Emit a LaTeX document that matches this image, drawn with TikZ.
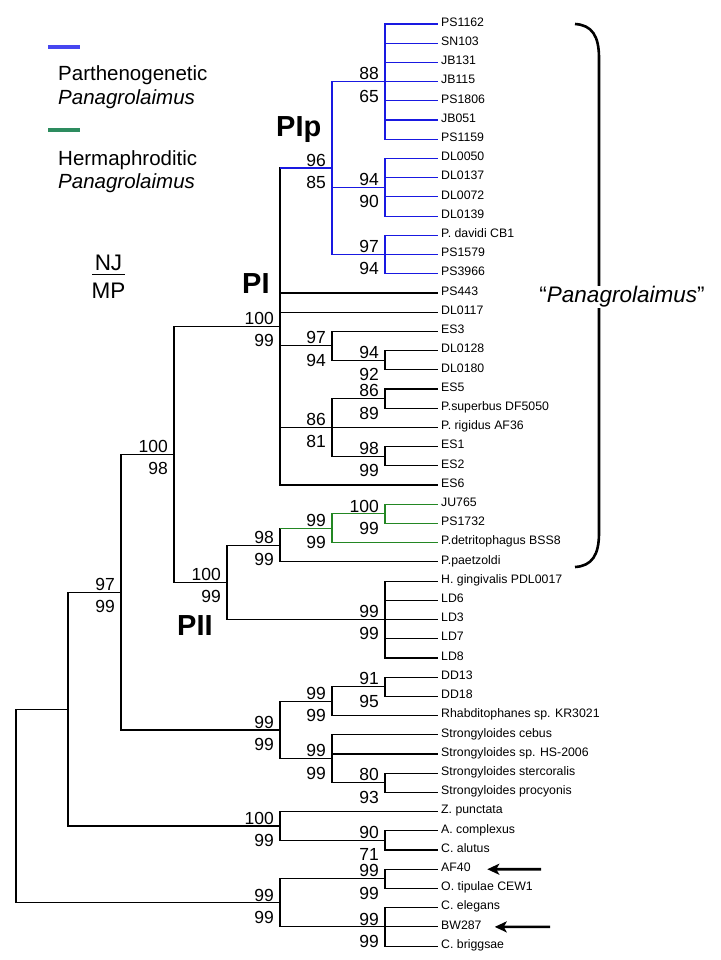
\documentclass[tikz,border=0pt]{standalone}
\usepackage{fontspec}
\setmainfont{Liberation Sans}
\usetikzlibrary{arrows.meta}
\definecolor{pblue}{RGB}{25,25,225}
\definecolor{hgreen}{RGB}{35,135,35}
\definecolor{legblue}{RGB}{70,70,240}
\definecolor{leggreen}{RGB}{45,140,95}
\tikzset{
	br/.style={line width=1.15pt},
	leaf/.style={anchor=west, inner xsep=3pt, inner ysep=0pt, font=\fontsize{12.3}{13}\selectfont, text height=8.5pt, text depth=4pt},
	bsup/.style={anchor=south east, inner sep=0pt, xshift=-6pt, yshift=1.5pt, font=\fontsize{17.5}{18}\selectfont},
	bslow/.style={anchor=north east, inner sep=0pt, xshift=-6pt, yshift=-8pt, font=\fontsize{17.5}{18}\selectfont},
	clade/.style={anchor=base west, inner sep=0pt, font=\fontsize{29}{30}\selectfont\bfseries},
	legend/.style={anchor=base west, inner sep=0pt, font=\fontsize{20.5}{22}\selectfont},
	pointer/.style={line width=2.6pt, -{Stealth[length=12pt, width=11pt, inset=3pt]}}
}
\newcommand{\support}[3]{
	\node[bsup] (#1-nj) at (#1) {#2};
	\node[bslow] (#1-mp) at (#1) {#3};
}

\begin{document}
\begin{tikzpicture}[x=1pt, y=-1pt]
\useasboundingbox (0,0) rectangle (720,960);

\foreach \name [count=\i] in {PS1162,SN103,JB131,JB115,PS1806,JB051,PS1159,DL0050,DL0137,DL0072,DL0139,P. davidi CB1,PS1579,PS3966,PS443,DL0117,ES3,DL0128,DL0180,ES5,P.superbus DF5050,P. rigidus AF36,ES1,ES2,ES6,JU765,PS1732,P.detritophagus BSS8,P.paetzoldi,H. gingivalis PDL0017,LD6,LD3,LD7,LD8,DD13,DD18,Rhabditophanes sp. KR3021,Strongyloides cebus,Strongyloides sp. HS-2006,Strongyloides stercoralis,Strongyloides procyonis,Z. punctata,A. complexus,C. alutus,AF40,O. tipulae CEW1,C. elegans,BW287,C. briggsae}
	\node[leaf] (l\i) at (438,{24+19.21*(\i-1)}) {\name};

\coordinate (p88) at (385,81.6);
\coordinate (p94) at (385,187.3);
\coordinate (p97) at (385,254.5);
\coordinate (pip) at (332,168);
\coordinate (pdl) at (385,360.2);
\coordinate (pes3) at (332,345.8);
\coordinate (pes5) at (385,398.6);
\coordinate (pes1) at (385,456.2);
\coordinate (prig) at (332,427.4);
\coordinate (pI) at (280,326.5);
\coordinate (pju) at (385,513.9);
\coordinate (pgr) at (332,528.3);
\coordinate (phe) at (280,545.1);
\coordinate (pld) at (385,619.5);
\coordinate (pII) at (227,582.3);
\coordinate (pc) at (174,454.4);
\coordinate (pdd) at (385,686.8);
\coordinate (prh) at (332,701.2);
\coordinate (pst) at (385,782.8);
\coordinate (pso) at (332,758.8);
\coordinate (ps) at (280,730);
\coordinate (pb) at (121,592.2);
\coordinate (pac) at (385,840.4);
\coordinate (pz) at (280,826);
\coordinate (pa) at (68,709.1);
\coordinate (po1) at (385,878.8);
\coordinate (po2) at (385,926.9);
\coordinate (po) at (280,902.9);
\coordinate (pr) at (16,806);

\foreach \p/\c in {pI/pip,pI/l15,pI/l16,pI/pes3,pI/prig,pI/l25,pes3/l17,pes3/pdl,pdl/l18,pdl/l19,prig/pes5,prig/l22,prig/pes1,pes5/l20,pes5/l21,pes1/l23,pes1/l24,phe/pgr,phe/l29,pII/phe,pII/pld,pc/pI,pc/pII,pb/pc,pb/ps,ps/prh,ps/pso,prh/pdd,prh/l37,pdd/l35,pdd/l36,pso/l38,pso/l39,pso/pst,pst/l40,pst/l41,pa/pb,pa/pz,pz/l42,pz/pac,pac/l43,pac/l44,pr/pa,pr/po,po/po1,po/po2,po1/l45,po1/l46,po2/l47,po2/l48,po2/l49}
	\draw[br] (\p) |- (\c);
\foreach \i in {30,...,34}
	\draw[br] (pld) |- (l\i);

\foreach \i in {1,...,7}
	\draw[br, pblue] (p88) |- (l\i);
\foreach \i in {8,...,11}
	\draw[br, pblue] (p94) |- (l\i);
\foreach \i in {12,...,14}
	\draw[br, pblue] (p97) |- (l\i);
\foreach \c in {p88,p94,p97}
	\draw[br, pblue] (pip) |- (\c);
\draw[br, pblue] (pI |- pip) -- (pip);

\foreach \p/\c in {pju/l26,pju/l27,pgr/pju,pgr/l28}
	\draw[br, hgreen] (\p) |- (\c);
\draw[br, hgreen] (phe |- pgr) -- (pgr);

\support{p88}{88}{65}
\support{p94}{94}{90}
\support{p97}{97}{94}
\support{pip}{96}{85}
\support{pI}{100}{99}
\support{pes3}{97}{94}
\support{pdl}{94}{92}
\support{pes5}{86}{89}
\support{prig}{86}{81}
\support{pes1}{98}{99}
\support{pju}{100}{99}
\support{pgr}{99}{99}
\support{phe}{98}{99}
\support{pII}{100}{99}
\support{pld}{99}{99}
\support{pc}{100}{98}
\support{pdd}{91}{95}
\support{prh}{99}{99}
\support{pst}{80}{93}
\support{pso}{99}{99}
\support{ps}{99}{99}
\support{pb}{97}{99}
\support{pac}{90}{71}
\support{pz}{100}{99}
\support{po1}{99}{99}
\support{po2}{99}{99}
\support{po}{99}{99}

\node[clade] (cPIp) at (276,137) {PIp};
\node[clade] (cPI) at (242,293) {PI};
\node[clade] (cPII) at (177,635) {PII};

\draw[legblue, line width=4.5pt] (48,47) -- (80,47);
\node[legend] (parth) at (58,81) {Parthenogenetic};
\node[legend] (panag1) at (58,105) {\itshape Panagrolaimus};
\draw[leggreen, line width=4.5pt] (48,130) -- (80,130);
\node[legend] (herma) at (58,165) {Hermaphroditic};
\node[legend] (panag2) at (58,188) {\itshape Panagrolaimus};

\node[anchor=base, inner sep=0pt, font=\fontsize{22.5}{24}\selectfont] (nj) at (108.5,270) {NJ};
\draw[line width=1pt] (92,274) -- (125,274);
\node[anchor=base, inner sep=0pt, font=\fontsize{22.5}{24}\selectfont] (mp) at (108.5,298) {MP};

\draw[line width=2.6pt] (575,24) .. controls (592,25) and (599,36) .. (599,58) -- (599,533) .. controls (599,555) and (592,566) .. (575,567);
\node[fill=white, inner sep=1pt, font=\fontsize{22.5}{24}\selectfont] (genus) at (622,297) {“\textit{Panagrolaimus}”};

\coordinate (t45) at (541,869.2);
\coordinate (t48) at (550,926.9);
\draw[pointer, shorten >=13.5pt] (t45) -- (l45.east);
\draw[pointer, shorten >=10pt] (t48) -- (l48.east);
\end{tikzpicture}
\end{document}
